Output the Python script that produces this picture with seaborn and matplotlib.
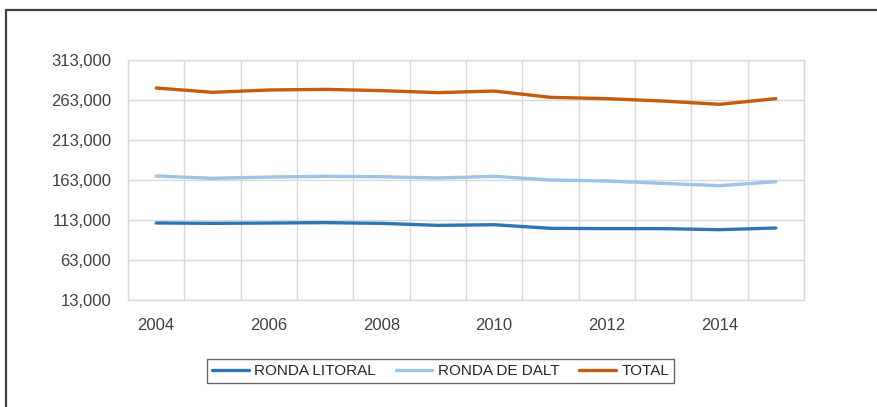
import matplotlib
matplotlib.use("Agg")
import matplotlib.pyplot as plt
import seaborn as sns
import pandas as pd
from matplotlib.lines import Line2D
from matplotlib.ticker import FuncFormatter, FixedLocator

years = list(range(2004, 2016))
ronda_litoral = [109300, 108800, 109200, 109700, 108800, 106300, 107100, 102600, 102200, 102200, 100900, 103000]
ronda_de_dalt = [168000, 165100, 166700, 167600, 167100, 165500, 167600, 163000, 161700, 158800, 155900, 160900]
total = [278000, 272600, 275500, 276300, 274700, 272200, 274200, 266300, 264700, 261700, 257600, 264700]
series_names = ["RONDA LITORAL", "RONDA DE DALT", "TOTAL"]
colors = ["#2E75B6", "#9DC3E6", "#C55A11"]
y_ticks = [13000, 63000, 113000, 163000, 213000, 263000, 313000]
x_ticks = [2004, 2006, 2008, 2010, 2012, 2014]

df = pd.DataFrame({
    "year": years * 3,
    "value": ronda_litoral + ronda_de_dalt + total,
    "series": [series_names[0]] * 12 + [series_names[1]] * 12 + [series_names[2]] * 12,
})

sns.set_theme(style="white")
plt.rcParams["font.family"] = ["Liberation Sans", "DejaVu Sans"]

fig = plt.figure(figsize=(8.77, 4.07), dpi=100)
ax = fig.add_axes([128 / 877, 1 - 300 / 407, (804 - 128) / 877, 240 / 407])

sns.lineplot(data=df, x="year", y="value", hue="series", palette=colors,
             hue_order=series_names, linewidth=2.4, ax=ax, legend=False)

ax.set_xlim(2003.5, 2015.5)
ax.set_ylim(13000, 313000)
ax.yaxis.set_major_locator(FixedLocator(y_ticks))
ax.yaxis.set_major_formatter(FuncFormatter(lambda v, p: f"{int(v):,}"))
ax.xaxis.set_major_locator(FixedLocator(x_ticks))
ax.xaxis.set_minor_locator(FixedLocator([y + 0.5 for y in range(2003, 2016)]))
ax.grid(False)
ax.grid(which="minor", axis="x", color="#d9d9d9", linewidth=1)
ax.grid(which="major", axis="y", color="#d9d9d9", linewidth=1)
ax.set_axisbelow(True)
for s in ax.spines.values():
    s.set_color("#d9d9d9")
    s.set_linewidth(1)
ax.tick_params(axis="both", which="both", length=0, labelsize=12, colors="#404040")
ax.tick_params(axis="y", pad=12)
ax.tick_params(axis="x", pad=13)
ax.set_xlabel("")
ax.set_ylabel("")

handles = [Line2D([0], [0], color=c, linewidth=2.4) for c in colors]
leg = fig.legend(handles, series_names, loc="center", bbox_to_anchor=(440.5 / 877, 1 - 371 / 407),
                 ncol=3, frameon=True, fontsize=11, handlelength=2.4, handletextpad=0.35,
                 columnspacing=1.3, fancybox=False, borderpad=0.35)
leg.get_frame().set_edgecolor("#404040")
leg.get_frame().set_linewidth(1)
for t in leg.get_texts():
    t.set_color("#262626")

# outer chart frame (left and top edges visible)
fig.add_artist(Line2D([5.5 / 877, 5.5 / 877], [0, 1 - 10 / 407], transform=fig.transFigure, color="#404040", linewidth=1.6))
fig.add_artist(Line2D([5.5 / 877, 1], [1 - 10 / 407, 1 - 10 / 407], transform=fig.transFigure, color="#404040", linewidth=1.6))

fig.savefig("out.png", dpi=100)
